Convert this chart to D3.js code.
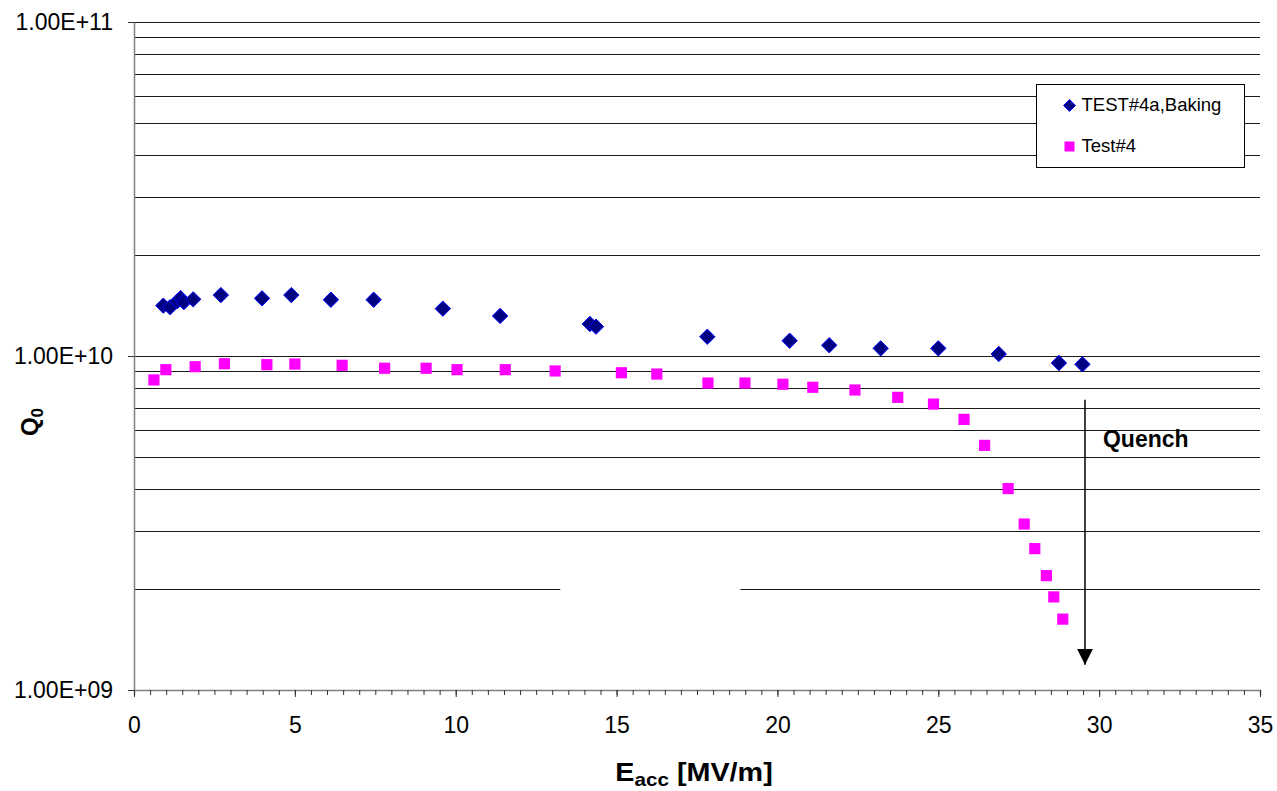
<!DOCTYPE html>
<html>
<head>
<meta charset="utf-8">
<script src="https://cdn.jsdelivr.net/npm/d3@7"></script>
<style>
  body { margin: 0; background: #fff; }
  text { font-family: "Liberation Sans", Arial, sans-serif; }
</style>
</head>
<body>
<svg width="1277" height="791"></svg>
<script>
// TEST#4a, Baking (blue diamonds)
var bakingE = [0.91, 1.12, 1.35, 1.45, 1.55, 1.84, 2.70, 3.98, 4.89, 6.12, 7.45, 9.60, 11.38,
  14.17, 14.36, 17.82, 20.38, 21.61, 23.21, 25.00, 26.88, 28.75, 29.48];
var bakingQ = [1.415e10, 1.40e10, 1.46e10, 1.49e10, 1.45e10, 1.478e10, 1.522e10, 1.488e10, 1.522e10,
  1.474e10, 1.474e10, 1.386e10, 1.318e10, 1.247e10, 1.224e10, 1.142e10, 1.111e10, 1.077e10,
  1.054e10, 1.054e10, 1.014e10, 9.53e9, 9.44e9];

// Test#4 (magenta squares)
var test4E = [0.62, 0.99, 1.90, 2.81, 4.13, 5.00, 6.47, 7.79, 9.08, 10.04, 11.54, 13.09, 15.15,
  16.25, 17.84, 18.99, 20.17, 21.10, 22.41, 23.74, 24.85, 25.80, 26.44, 27.17, 27.67, 28.00,
  28.36, 28.59, 28.87];
var test4Q = [8.48e9, 9.10e9, 9.29e9, 9.48e9, 9.42e9, 9.46e9, 9.38e9, 9.19e9, 9.19e9, 9.10e9,
  9.10e9, 9.02e9, 8.91e9, 8.83e9, 8.30e9, 8.30e9, 8.23e9, 8.06e9, 7.91e9, 7.52e9, 7.18e9,
  6.46e9, 5.40e9, 4.01e9, 3.14e9, 2.65e9, 2.20e9, 1.90e9, 1.63e9];

var xTicks = [0, 5, 10, 15, 20, 25, 30, 35];
var yTicks = [1e9, 1e10, 1e11];
var seriesNames = ["TEST#4a,Baking", "Test#4"];

// quench arrow: E position, start Q, end Q
var quenchE = 29.56, quenchFrom = 7.39e9, quenchTo = 1.19e9;
// the 2e9 gridline is broken in the original between these E values
var gridGap = { q: 2e9, from: 13.25, to: 18.85 };

var svg = d3.select("svg"),
  margin = { top: 22, right: 17, bottom: 101, left: 134 },
  width = +svg.attr("width") - margin.left - margin.right,
  height = +svg.attr("height") - margin.top - margin.bottom,
  g = svg.append("g").attr("transform", "translate(" + margin.left + "," + margin.top + ")");

var x = d3.scaleLinear().domain([0, 35]).range([0, width]);
var y = d3.scaleLog().domain([1e9, 1e11]).range([height, 0]);

function sci(d) {
  var e = Math.round(Math.log10(d));
  return "1.00E+" + (e < 10 ? "0" + e : e);
}

// horizontal gridlines (every 1..9 x decade)
var gridVals = [];
[1e9, 1e10].forEach(function(dec) {
  for (var k = 2; k <= 10; k++) gridVals.push(dec * k);
});
gridVals.forEach(function(v) {
  var segs = (v === gridGap.q) ? [[0, gridGap.from], [gridGap.to, 35]] : [[0, 35]];
  segs.forEach(function(s) {
    g.append("line")
      .attr("x1", x(s[0])).attr("x2", x(s[1]))
      .attr("y1", Math.round(y(v)) + 0.5).attr("y2", Math.round(y(v)) + 0.5)
      .attr("stroke", "#1a1a1a")
      .attr("stroke-width", 1);
  });
});

// x axis
var xMinor = d3.range(0, 35.01, 0.5);
g.append("g")
  .attr("transform", "translate(0," + height + ")")
  .call(d3.axisBottom(x).tickValues(xMinor).tickSize(5).tickFormat(""))
  .call(function(a) { a.select(".domain").attr("stroke", "#808080").attr("stroke-width", 1.5); })
  .call(function(a) { a.selectAll(".tick line").attr("stroke", "#333"); });
g.append("g")
  .attr("transform", "translate(0," + height + ")")
  .call(d3.axisBottom(x).tickValues(xTicks).tickSize(7).tickPadding(20))
  .call(function(a) { a.select(".domain").remove(); })
  .call(function(a) {
    a.selectAll(".tick line").attr("stroke", "#333");
    a.selectAll("text").attr("font-size", 23).attr("fill", "#000")
      .style("font-family", "'Liberation Sans', Arial, sans-serif");
  });

// y axis
g.append("g")
  .call(d3.axisLeft(y).tickValues(yTicks).tickSize(6).tickSizeOuter(0).tickPadding(15).tickFormat(sci))
  .call(function(a) {
    a.select(".domain").attr("stroke", "#808080").attr("stroke-width", 1.5);
    a.selectAll(".tick line").attr("stroke", "#333");
    a.selectAll("text").attr("font-size", 23).attr("fill", "#000")
      .style("font-family", "'Liberation Sans', Arial, sans-serif");
  });

// axis titles
var xt = svg.append("text")
  .attr("transform", "translate(694,781) scale(1.15,1)")
  .attr("text-anchor", "middle")
  .attr("font-size", 25)
  .attr("font-weight", "bold");
xt.append("tspan").text("E");
xt.append("tspan").attr("font-size", 18).attr("dy", 5).text("acc");
xt.append("tspan").attr("dy", -5).text(" [MV/m]");

var yt = svg.append("text")
  .attr("transform", "translate(38,422) rotate(-90)")
  .attr("text-anchor", "middle")
  .attr("font-size", 24)
  .attr("font-weight", "bold");
yt.append("tspan").text("Q");
yt.append("tspan").attr("font-size", 17).attr("dy", 5).text("0");

// data markers
var diamond = d3.symbol().type(d3.symbolDiamond2).size(150);
var square = d3.symbol().type(d3.symbolSquare).size(125);

g.selectAll(".test4")
  .data(test4E.map(function(e, i) { return [e, test4Q[i]]; }))
  .enter().append("path")
  .attr("class", "test4")
  .attr("d", square)
  .attr("transform", function(d) { return "translate(" + x(d[0]) + "," + y(d[1]) + ")"; })
  .attr("fill", "#ff00ff");

g.selectAll(".baking")
  .data(bakingE.map(function(e, i) { return [e, bakingQ[i]]; }))
  .enter().append("path")
  .attr("class", "baking")
  .attr("d", diamond)
  .attr("transform", function(d) { return "translate(" + x(d[0]) + "," + y(d[1]) + ")"; })
  .attr("fill", "#000080")
  .attr("stroke", "#0000ff")
  .attr("stroke-width", 1);

// quench arrow
svg.append("defs").append("marker")
  .attr("id", "arrow")
  .attr("viewBox", "0 0 10 10")
  .attr("refX", 10).attr("refY", 5)
  .attr("markerUnits", "userSpaceOnUse")
  .attr("markerWidth", 16).attr("markerHeight", 16)
  .attr("orient", "auto")
  .append("path").attr("d", "M0,0 L10,5 L0,10 z").attr("fill", "#000");

g.append("line")
  .attr("x1", x(quenchE)).attr("x2", x(quenchE))
  .attr("y1", y(quenchFrom)).attr("y2", y(quenchTo))
  .attr("stroke", "#000")
  .attr("stroke-width", 1.5)
  .attr("marker-end", "url(#arrow)");

g.append("text")
  .attr("x", x(quenchE) + 18)
  .attr("y", y(quenchFrom) + 47)
  .attr("font-size", 23)
  .attr("font-weight", "bold")
  .text("Quench");

// legend
var lg = svg.append("g").attr("transform", "translate(1036.5,84.5)");
lg.append("rect")
  .attr("width", 208).attr("height", 83)
  .attr("fill", "#fff")
  .attr("stroke", "#000")
  .attr("stroke-width", 1);
lg.append("path")
  .attr("d", d3.symbol().type(d3.symbolDiamond2).size(90))
  .attr("transform", "translate(33,21)")
  .attr("fill", "#000080").attr("stroke", "#0000ff");
lg.append("path")
  .attr("d", d3.symbol().type(d3.symbolSquare).size(100))
  .attr("transform", "translate(33,62)")
  .attr("fill", "#ff00ff");
lg.selectAll(".ltxt")
  .data(seriesNames)
  .enter().append("text")
  .attr("x", 45)
  .attr("y", function(d, i) { return 26 + i * 41; })
  .attr("font-size", 18.5)
  .text(function(d) { return d; });
</script>
</body>
</html>
